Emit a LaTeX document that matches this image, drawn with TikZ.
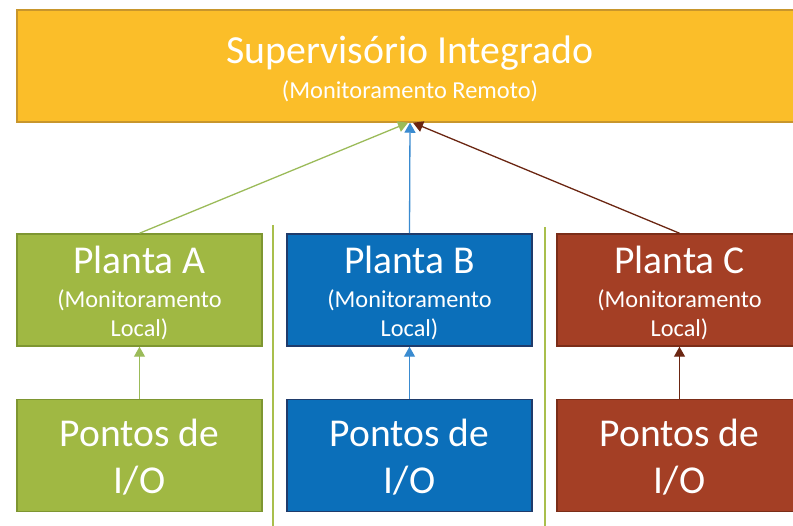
\documentclass[tikz,border=0pt]{standalone}
\usepackage{fontspec}
\setmainfont{Carlito}
\usetikzlibrary{arrows.meta}
\definecolor{supfill}{HTML}{FBBE29}
\definecolor{supline}{HTML}{C8962C}
\definecolor{verdefill}{HTML}{A0B843}
\definecolor{verdeline}{HTML}{7E9631}
\definecolor{azulfill}{HTML}{0B6FBA}
\definecolor{azulline}{HTML}{1F3B6B}
\definecolor{marromfill}{HTML}{A43F25}
\definecolor{marromline}{HTML}{7B2D18}
\definecolor{setaverde}{HTML}{9BBB59}
\definecolor{setaazul}{HTML}{3A8BD0}
\definecolor{setamarrom}{HTML}{6B2612}
\definecolor{divisor}{HTML}{A9BF4C}
\begin{document}
\begin{tikzpicture}[x=1pt,y=-1pt,
		caixa/.style={draw,line width=1.5pt,text=white,align=center,inner sep=0pt,
			minimum width=245pt,minimum height=112pt},
		planta/.style={caixa,font=\fontsize{24.3pt}{29pt}\selectfont,text height=99pt,text depth=5pt},
		pontos/.style={caixa,font=\fontsize{39.5pt}{47pt}\selectfont,text height=81pt,text depth=5pt},
		seta/.style={line width=1.3pt,-{Triangle[length=10pt,width=11pt]}}]
	\useasboundingbox (0,0) rectangle (793,526);
	\node[caixa,fill=supfill,draw=supline,minimum width=786pt,text height=74pt,text depth=8pt,
	font=\fontsize{24.4pt}{35pt}\selectfont] (sup) at (410,66)
	{{\fontsize{39.8pt}{40pt}\selectfont Supervisório Integrado}\\(Monitoramento Remoto)};
	% plantas
	\node[planta,fill=verdefill,draw=verdeline] (plantaA) at (139.5,290)
	{{\fontsize{39.5pt}{38pt}\selectfont Planta A}\\[5pt](Monitoramento\\Local)};
	\node[planta,fill=azulfill,draw=azulline] (plantaB) at (409.5,290)
	{{\fontsize{39.5pt}{38pt}\selectfont Planta B}\\[5pt](Monitoramento\\Local)};
	\node[planta,fill=marromfill,draw=marromline] (plantaC) at (679.5,290)
	{{\fontsize{39.5pt}{38pt}\selectfont Planta C}\\[5pt](Monitoramento\\Local)};
	% pontos de I/O
	\node[pontos,fill=verdefill,draw=verdeline] (pontosA) at (139.5,455.5) {Pontos de\\I/O};
	\node[pontos,fill=azulfill,draw=azulline] (pontosB) at (409.5,455.5) {Pontos de\\I/O};
	\node[pontos,fill=marromfill,draw=marromline] (pontosC) at (679.5,455.5) {Pontos de\\I/O};
	% divisores
	\draw[line width=1.5pt,divisor] (273,225) -- (273,526);
	\draw[line width=1.5pt,divisor] (545,227) -- (545,526);
	% setas
	\draw[seta,setaverde] (plantaA.north) -- ([xshift=-2pt]sup.south);
	\draw[seta,setaazul] (plantaB.north) -- (sup.south);
	\draw[seta,setamarrom] (plantaC.north) -- ([xshift=3pt]sup.south);
	\draw[seta,setaverde] (pontosA.north) -- (plantaA.south);
	\draw[seta,setaazul] (pontosB.north) -- (plantaB.south);
	\draw[seta,setamarrom] (pontosC.north) -- (plantaC.south);
\end{tikzpicture}
\end{document}
